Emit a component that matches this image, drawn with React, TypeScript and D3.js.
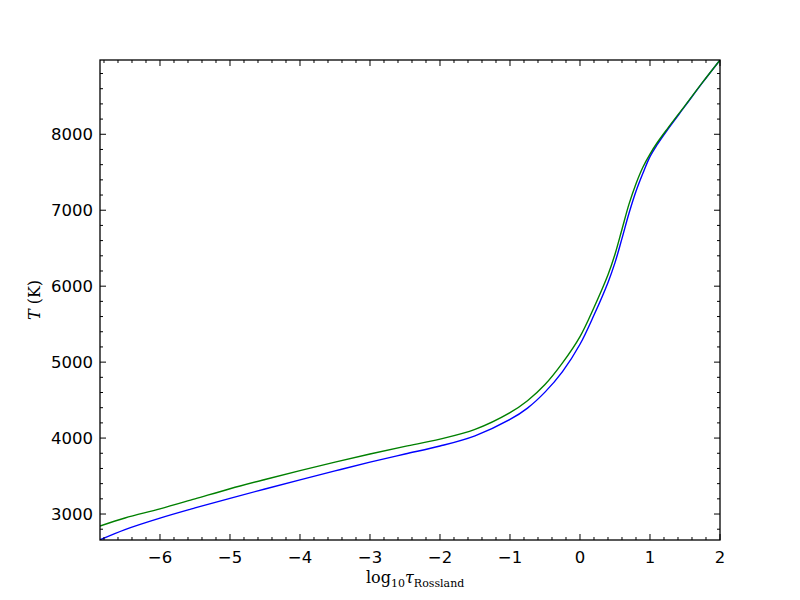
import React, { useEffect } from "react";
import * as d3 from "d3";

const tau = [-6.857, -6.5, -6, -5.5, -5, -4.5, -4, -3.5, -3, -2.5, -2, -1.5, -1, -0.75, -0.5, -0.25, 0, 0.2, 0.4, 0.5, 0.6, 0.7, 0.8, 0.9, 1.0, 1.1, 1.25, 1.5, 1.75, 2.0];
const tempBlue = [2660, 2795, 2946, 3080, 3207, 3330, 3450, 3568, 3683, 3790, 3895, 4030, 4245, 4395, 4605, 4875, 5235, 5620, 6050, 6310, 6630, 6960, 7250, 7490, 7706, 7860, 8060, 8370, 8680, 8978];
const tempGreen = [2842, 2948, 3068, 3200, 3333, 3455, 3572, 3684, 3790, 3890, 3987, 4115, 4335, 4492, 4705, 4990, 5336, 5720, 6150, 6420, 6750, 7080, 7350, 7570, 7740, 7885, 8075, 8378, 8683, 8978];
const xTicks = [-6, -5, -4, -3, -2, -1, 0, 1, 2];
const yTicks = [3000, 4000, 5000, 6000, 7000, 8000];
const xDomain = [-6.857, 2];
const yDomain = [2658, 8978];

const W = 800, H = 600;
const L = 100, R = 720, T = 60, B = 540;

const fmt = (v: number) => (v < 0 ? "\u2212" + Math.abs(v) : String(v));

export default function App() {
  useEffect(() => {
    document.body.style.margin = "0";
  }, []);
  const x = d3.scaleLinear().domain(xDomain).range([L, R]);
  const y = d3.scaleLinear().domain(yDomain).range([B, T]);
  const line = d3
    .line<number>()
    .x((_, i) => x(tau[i]))
    .y((d) => y(d))
    .curve(d3.curveCatmullRom.alpha(0.5));

  const xMinor: number[] = [];
  for (let v = -6.8; v <= 2.0001; v += 0.2) {
    const r = Math.round(v * 10) / 10;
    if (Math.abs(r - Math.round(r)) > 1e-6 && r >= xDomain[0]) xMinor.push(r);
  }
  const yMinor: number[] = [];
  for (let v = 2800; v <= 8900; v += 200) {
    if (v % 1000 !== 0) yMinor.push(v);
  }
  const tickFont = "'DejaVu Sans', sans-serif";
  return (
    <svg width={W} height={H} style={{ display: "block", background: "#fff" }}>
      <rect x={0} y={0} width={W} height={H} fill="#fff" />
      <defs>
        <clipPath id="plot">
          <rect x={L} y={T} width={R - L} height={B - T} />
        </clipPath>
      </defs>
      <g clipPath="url(#plot)">
        <path d={line(tempBlue) || ""} fill="none" stroke="#0000ff" strokeWidth={1.4} />
        <path d={line(tempGreen) || ""} fill="none" stroke="#008000" strokeWidth={1.4} />
      </g>
      <g stroke="#000" strokeWidth={1}>
        {xTicks.map((v) => (
          <g key={"xt" + v}>
            <line x1={x(v)} x2={x(v)} y1={B} y2={B - 6} />
            <line x1={x(v)} x2={x(v)} y1={T} y2={T + 6} />
          </g>
        ))}
        {xMinor.map((v) => (
          <g key={"xm" + v}>
            <line x1={x(v)} x2={x(v)} y1={B} y2={B - 3} />
            <line x1={x(v)} x2={x(v)} y1={T} y2={T + 3} />
          </g>
        ))}
        {yTicks.map((v) => (
          <g key={"yt" + v}>
            <line x1={L} x2={L + 6} y1={y(v)} y2={y(v)} />
            <line x1={R} x2={R - 6} y1={y(v)} y2={y(v)} />
          </g>
        ))}
        {yMinor.map((v) => (
          <g key={"ym" + v}>
            <line x1={L} x2={L + 3} y1={y(v)} y2={y(v)} />
            <line x1={R} x2={R - 3} y1={y(v)} y2={y(v)} />
          </g>
        ))}
      </g>
      <rect x={L} y={T} width={R - L} height={B - T} fill="none" stroke="#000" strokeWidth={1.3} />
      <g fontFamily={tickFont} fontSize={16.5} fill="#000">
        {xTicks.map((v) => (
          <text key={"xl" + v} x={x(v)} y={B + 23} textAnchor="middle">
            {fmt(v)}
          </text>
        ))}
        {yTicks.map((v) => (
          <text key={"yl" + v} x={L - 7} y={y(v) + 6} textAnchor="end">
            {fmt(v)}
          </text>
        ))}
      </g>
      <text x={(L + R) / 2 - 44} y={583} fontFamily="'DejaVu Serif', 'Liberation Serif', serif" fontSize={16}>
        <tspan>log</tspan>
        <tspan fontSize={11} dy={4}>10</tspan>
        <tspan fontStyle="italic" dy={-4}>τ</tspan>
        <tspan fontSize={11} dy={4}>Rossland</tspan>
      </text>
      <text
        transform={`translate(40, ${(T + B) / 2}) rotate(-90)`}
        textAnchor="middle"
        fontFamily="'DejaVu Serif', 'Liberation Serif', serif"
        fontSize={16}
      >
        <tspan fontStyle="italic">T</tspan>
        <tspan> (K)</tspan>
      </text>
    </svg>
  );
}
